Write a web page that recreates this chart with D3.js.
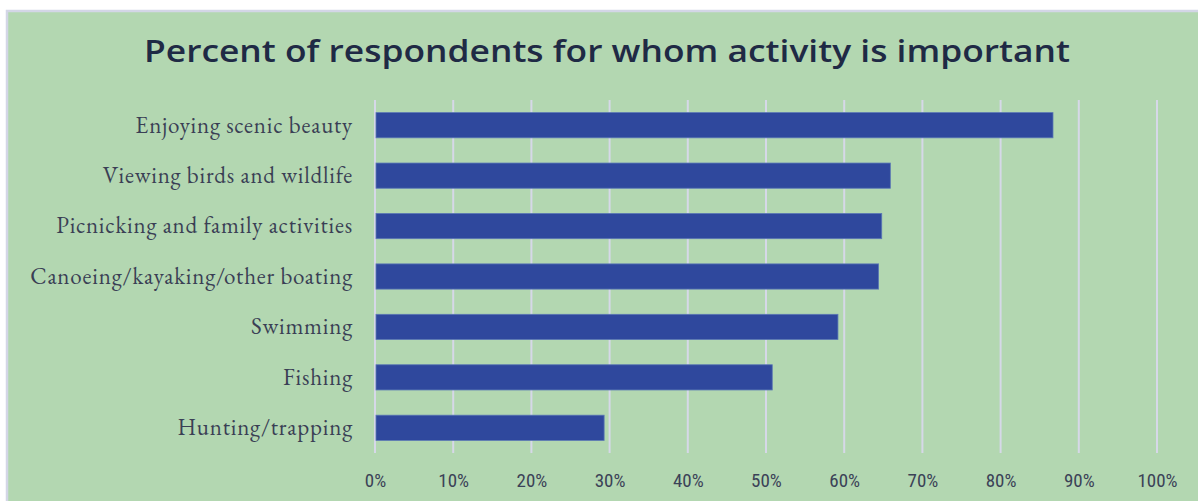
<!DOCTYPE html>
<html><head><meta charset="utf-8">
<script src="https://cdn.jsdelivr.net/npm/d3@7"></script>
<style>
html,body{margin:0;padding:0;background:#fff;}
svg{display:block;}
</style></head>
<body>
<svg id="chart" width="1198" height="501"></svg>
<script>
const title = "Percent of respondents for whom activity is important";
const categories = ["Enjoying scenic beauty","Viewing birds and wildlife","Picnicking and family activities","Canoeing/kayaking/other boating","Swimming","Fishing","Hunting/trapping"];
const values = [0.867, 0.659, 0.648, 0.644, 0.592, 0.508, 0.293];
const tickValues = [0,0.1,0.2,0.3,0.4,0.5,0.6,0.7,0.8,0.9,1.0];

const svg = d3.select("#chart");
const W = 1198, H = 501;
const m = {left:375, right:1157, top:100, bottom:453};

// chart background + border
svg.append("rect").attr("x",7).attr("y",11).attr("width",W+10).attr("height",H+10)
  .attr("fill","#b3d7b1").attr("stroke","#d3d6e6").attr("stroke-width",2.5);

svg.append("text").attr("x",607).attr("y",62).attr("text-anchor","middle")
  .attr("font-family","'Open Sans', 'DejaVu Sans', sans-serif").attr("font-weight","600")
  .attr("font-size",31).attr("fill","#1f2a45")
  .attr("textLength",926).attr("lengthAdjust","spacingAndGlyphs")
  .text(title);

const x = d3.scaleLinear().domain([0,1]).range([m.left,m.right]);
const y = d3.scaleBand().domain(categories).range([m.top,m.bottom]).paddingInner(0.5).paddingOuter(0.25);

// gridlines
svg.append("g").selectAll("line").data(tickValues).join("line")
  .attr("x1",d=>x(d)).attr("x2",d=>x(d)).attr("y1",m.top).attr("y2",m.bottom)
  .attr("stroke","#d6d8e8").attr("stroke-width",2);

// bars
svg.append("g").selectAll("rect").data(categories).join("rect")
  .attr("x",x(0)+1).attr("y",d=>y(d))
  .attr("width",(d,i)=>x(values[i])-x(0)-1).attr("height",y.bandwidth())
  .attr("fill","#2f489d").attr("stroke","#5b78b5").attr("stroke-width",0.8);

// x axis
const xAxis = d3.axisBottom(x).tickValues(tickValues).tickFormat(d3.format(".0%")).tickSize(0).tickPadding(0);
const gx = svg.append("g").attr("transform",`translate(0,${m.bottom+20})`).call(xAxis);
gx.select(".domain").remove();
gx.selectAll("text").attr("font-family","'Liberation Sans Narrow', 'Roboto Condensed', 'Liberation Sans', sans-serif")
  .attr("font-size",19).attr("fill","#3b4257");

// y axis labels
const yAxis = d3.axisLeft(y).tickSize(0).tickPadding(22);
const gy = svg.append("g").attr("transform",`translate(${m.left},0)`).call(yAxis);
gy.select(".domain").remove();
gy.selectAll("text").attr("font-family","'EB Garamond', Garamond, 'Liberation Serif', serif")
  .attr("font-size",23).attr("fill","#3a3f55").attr("letter-spacing","0.8");
</script>
</body></html>
